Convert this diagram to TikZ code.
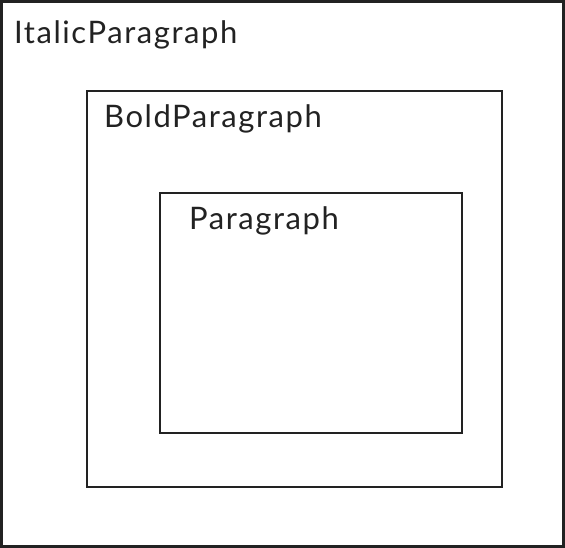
\documentclass[tikz,border=0pt]{standalone}
\usepackage{fontspec}
\setmainfont{Lato}[LetterSpace=5]
\definecolor{ln}{HTML}{222222}
\begin{document}
\begin{tikzpicture}[x=1pt,y=-1pt,
  box/.style={draw=ln,line width=2pt},
  lbl/.style={anchor=base west,inner sep=0pt,text=ln,font=\fontsize{31}{36}\selectfont}]
\useasboundingbox (0,0) rectangle (565,548);
\draw[draw=ln,line width=3pt] (1.5,1.5) rectangle (563.5,546.5);
\node[box,minimum width=415pt,minimum height=396pt,anchor=north west,inner sep=0pt] (bold) at (86,90) {};
\node[box,minimum width=302pt,minimum height=240pt,anchor=north west,inner sep=0pt] (para) at (159,192) {};
\node[lbl] (t1) at (14,44) {ItalicParagraph};
\node[lbl] (t2) at (104,128) {BoldParagraph};
\node[lbl] (t3) at (189,230) {Paragraph};
\end{tikzpicture}
\end{document}
